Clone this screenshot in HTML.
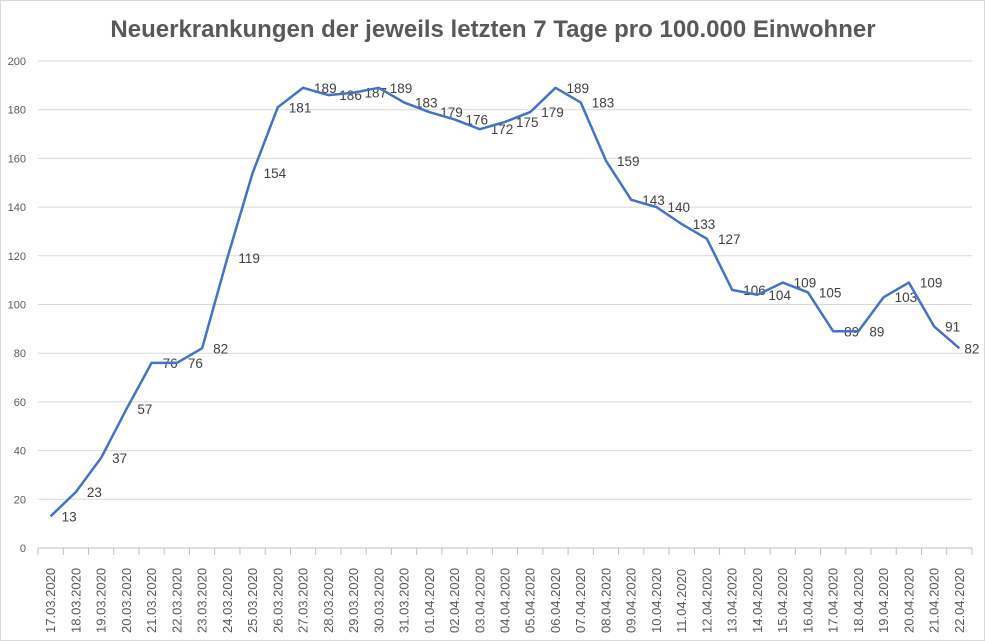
<!DOCTYPE html>
<html><head><meta charset="utf-8"><style>body{margin:0;background:#fff}svg{display:block}</style></head><body>
<svg id="s" width="985" height="641" xmlns="http://www.w3.org/2000/svg" font-family="Liberation Sans, sans-serif">
<rect x="0.5" y="0.5" width="984" height="640" fill="#fff" stroke="#d9d9d9"/>
<text x="493" y="37" text-anchor="middle" font-size="24" font-weight="bold" fill="#595959">Neuerkrankungen der jeweils letzten 7 Tage pro 100.000 Einwohner</text>
<g id="g"></g>
</svg>
<script>
var d=[13,23,37,57,76,76,82,119,154,181,189,186,187,189,183,179,176,172,175,179,189,183,159,143,140,133,127,106,104,109,105,89,89,103,109,91,82];
var days=[];for(var i=17;i<=31;i++)days.push(i+".03.2020");for(i=1;i<=22;i++)days.push((i<10?"0":"")+i+".04.2020");
var L=38,R=972,T=61,B=548,w=(R-L)/37,h="";
function Y(v){return B-(B-T)*v/200}
for(var v=0;v<=200;v+=20){var y=Y(v);if(v>0)h+='<line x1="'+L+'" x2="'+R+'" y1="'+y+'" y2="'+y+'" stroke="#d9d9d9"/>';h+='<text x="26" y="'+(y+4)+'" text-anchor="end" font-size="11" fill="#595959">'+v+'</text>';}
h+='<line x1="'+L+'" x2="'+R+'" y1="'+B+'" y2="'+B+'" stroke="#bfbfbf"/>';
for(i=0;i<=37;i++){var x=L+w*i;h+='<line x1="'+x+'" x2="'+x+'" y1="'+B+'" y2="'+(B+7)+'" stroke="#bfbfbf"/>';}
var p="";
for(i=0;i<37;i++){var x=L+w*(i+0.5);p+=(i?"L":"M")+x.toFixed(1)+","+Y(d[i]).toFixed(1);
h+='<text transform="translate('+(x+4.5)+',633) rotate(-90)" font-size="13" fill="#595959">'+days[i]+'</text>';
var ox=i==36?5:11;
h+='<text x="'+(x+ox)+'" y="'+(Y(d[i])+5)+'" font-size="13.5" fill="#404040">'+d[i]+'</text>';}
h+='<path d="'+p+'" fill="none" stroke="#4472c4" stroke-width="2.5" stroke-linejoin="round"/>';
document.getElementById("g").innerHTML=h;
</script>
</body></html>
